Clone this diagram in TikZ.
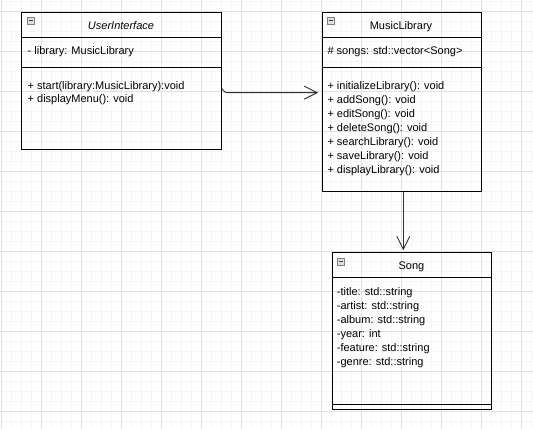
\documentclass[tikz,border=0pt]{standalone}
\usepackage{fontspec}
\setmainfont{Liberation Sans}
\usetikzlibrary{arrows.meta,calc}
\begin{document}
\begin{tikzpicture}[x=1pt,y=-1pt,
  umlbox/.style={draw=black,line width=0.9pt,rectangle,inner sep=0pt,anchor=north west},
  txt/.style={anchor=base west,inner sep=0pt,font=\fontsize{11}{13}\selectfont,text=black},
  ttl/.style={anchor=base,inner sep=0pt,font=\fontsize{11}{13}\selectfont,text=black},
  sepline/.style={line width=0.9pt,draw=black},
  icon/.style={draw=black!50,fill=black!12,minimum width=7pt,minimum height=6.5pt,inner sep=0pt,anchor=north west,line width=0.6pt},
  iconminus/.style={line width=0.8pt,draw=black!75},
  minorgrid/.style={draw=black!4,line width=0.8pt},
  majorgrid/.style={draw=black!12,line width=0.8pt},
  assoc/.style={line width=0.9pt,draw=black!80,-{Straight Barb[length=13pt,width=13pt,line width=0.9pt]}}]
\useasboundingbox (0,0) rectangle (533,429);
\fill[white] (0,0) rectangle (533,429);
% grid
\foreach \x in {1,11,...,531} \draw[minorgrid] (\x,0) -- (\x,429);
\foreach \y in {1.7,11.7,...,429} \draw[minorgrid] (0,\y) -- (533,\y);
\foreach \x in {1,41,...,531} \draw[majorgrid] (\x,0) -- (\x,429);
\foreach \y in {11.7,51.7,...,429} \draw[majorgrid] (0,\y) -- (533,\y);

% UserInterface
\node[umlbox,minimum width=200pt,minimum height=137pt] (ui) at (21,11.7) {};
\draw[sepline] (21,37.3) -- (221,37.3);
\draw[sepline] (21,67) -- (221,67);
\node[icon] (uiicon) at (27,17) {};
\draw[iconminus] ([xshift=-2.2pt]uiicon.center) -- ([xshift=2.2pt]uiicon.center);
\node[ttl] (uititle) at (121,29) {\itshape UserInterface};
\node[txt] (uiattr) at (27.5,54.7) {- library: MusicLibrary};
\node[txt] (uim1) at (27.5,89) {+ start(library:MusicLibrary):void};
\node[txt] (uim2) at (27.5,102.7) {+ displayMenu(): void};

% MusicLibrary
\node[umlbox,minimum width=159.6pt,minimum height=179pt] (ml) at (321.7,11.7) {};
\draw[sepline] (321.7,37.3) -- (481.3,37.3);
\draw[sepline] (321.7,67) -- (481.3,67);
\node[icon] (mlicon) at (327,17) {};
\draw[iconminus] ([xshift=-2.2pt]mlicon.center) -- ([xshift=2.2pt]mlicon.center);
\node[ttl] (mltitle) at (401,29) {MusicLibrary};
\node[txt] (mlattr) at (327.3,54.7) {\# songs: std::vector<Song>};
\node[txt] (mlm1) at (327.3,89) {+ initializeLibrary(): void};
\node[txt] (mlm2) at (327.3,103) {+ addSong(): void};
\node[txt] (mlm3) at (327.3,117) {+ editSong(): void};
\node[txt] (mlm4) at (327.3,131) {+ deleteSong(): void};
\node[txt] (mlm5) at (327.3,145) {+ searchLibrary(): void};
\node[txt] (mlm6) at (327.3,159) {+ saveLibrary(): void};
\node[txt] (mlm7) at (327.3,173) {+ displayLibrary(): void};

% Song
\node[umlbox,minimum width=159.6pt,minimum height=157pt] (song) at (331.7,251.7) {};
\draw[sepline] (331.7,277) -- (491.3,277);
\draw[sepline] (331.7,404.7) -- (491.3,404.7);
\node[icon] (songicon) at (337,258) {};
\draw[iconminus] ([xshift=-2.2pt]songicon.center) -- ([xshift=2.2pt]songicon.center);
\node[ttl] (songtitle) at (411.5,269) {Song};
\node[txt] (sa1) at (336.7,295) {-title: std::string};
\node[txt] (sa2) at (336.7,309) {-artist: std::string};
\node[txt] (sa3) at (336.7,323) {-album: std::string};
\node[txt] (sa4) at (336.7,337) {-year: int};
\node[txt] (sa5) at (336.7,351) {-feature: std::string};
\node[txt] (sa6) at (336.7,365) {-genre: std::string};

% connectors
\draw[assoc] ([yshift=-8pt]ui.east) .. controls +(3,3.5) and +(-4,0) .. ([yshift=-12pt]ui.east -| 229,0) -- ([xshift=-3.5pt,yshift=-12pt]ml.west |- ui.east);
\draw[assoc] (ml.south -| 403.3,0) -- ([yshift=1.5pt]song.north -| 403.3,0);
\end{tikzpicture}
\end{document}
